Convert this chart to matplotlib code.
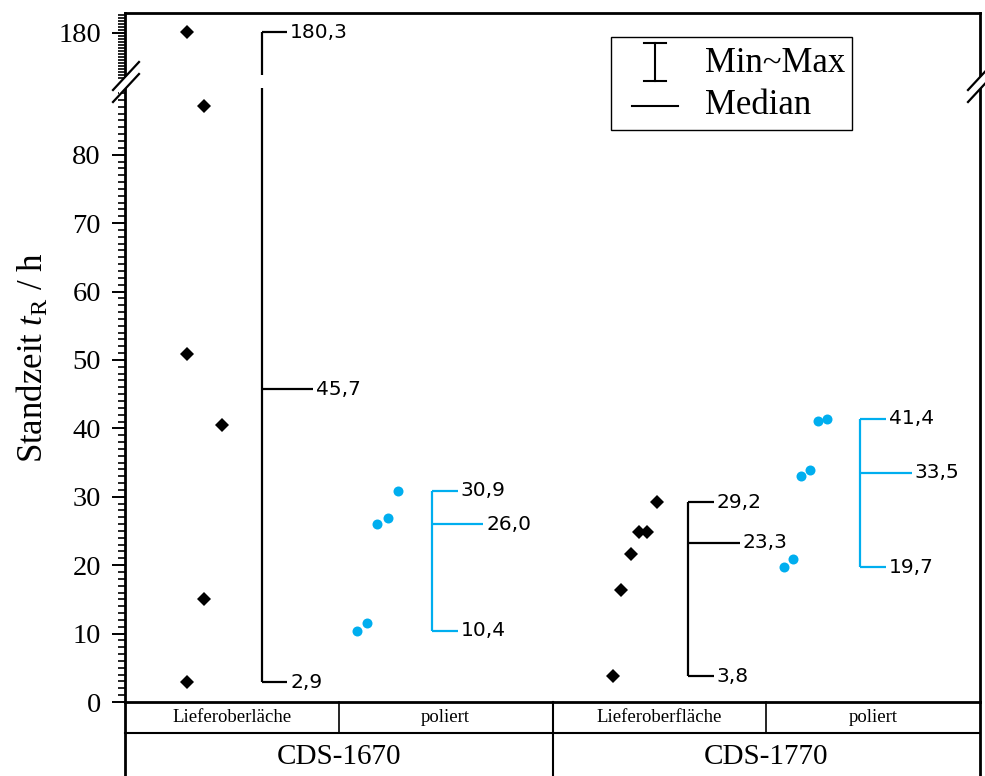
import numpy as np
import matplotlib
matplotlib.use("Agg")
import matplotlib.pyplot as plt
from matplotlib.patches import Polygon, Rectangle
from matplotlib.lines import Line2D

plt.rcParams['font.family'] = ['Liberation Serif', 'DejaVu Serif']
plt.rcParams['mathtext.fontset'] = 'custom'
plt.rcParams['mathtext.rm'] = 'Liberation Serif'
plt.rcParams['mathtext.it'] = 'Liberation Serif:italic'

# ---------------- data ----------------
materials = ["CDS-1670", "CDS-1770"]
surfaces = ["Lieferoberläche", "poliert", "Lieferoberfläche", "poliert"]
g1_values = [2.9, 15.1, 40.5, 50.9, 87.1, 180.3]
g2_values = [10.4, 11.5, 26.0, 26.9, 30.9]
g3_values = [3.8, 16.4, 21.7, 24.9, 24.9, 29.2]
g4_values = [19.7, 20.9, 33.1, 33.9, 41.1, 41.4]
yticks_major = [0, 10, 20, 30, 40, 50, 60, 70, 80, 180]

# ---------------- layout ----------------
groups = [g1_values, g2_values, g3_values, g4_values]
x_offsets = [
    [0.29, 0.37, 0.454, 0.29, 0.37, 0.29],
    [0.084, 0.13, 0.18, 0.23, 0.276],
    [0.285, 0.32, 0.365, 0.407, 0.444, 0.487],
    [0.084, 0.126, 0.164, 0.206, 0.243, 0.285],
]
bracket_x = [0.64, 0.437, 0.636, 0.44]
group_colors = ["black", "#00AEEF", "black", "#00AEEF"]
group_markers = ["D", "o", "D", "o"]
group_ms = [6.8, 7.2, 6.8, 7.2]
tick_len = 0.12
med_len = 0.24
K = 0.4386                      # compression of the upper segment
UP0 = 180 - 7.2 / K             # lowest value of upper segment
low_top, up_bot = 89.8, 180 - 6.09 / K   # gap in the bracket at the axis break

# broken axis scale
def fwd(v):
    v = np.asarray(v, dtype=float)
    return np.where(v <= 90, v,
                    np.where(v >= UP0, 97.8 + (v - 180) * K,
                             90 + (v - 90) * (0.6 / (UP0 - 90))))

def inv(d):
    d = np.asarray(d, dtype=float)
    return np.where(d <= 90, d,
                    np.where(d >= 90.6, 180 + (d - 97.8) / K,
                             90 + (d - 90) * ((UP0 - 90) / 0.6)))

fig = plt.figure(figsize=(9.85, 7.76), dpi=100)
ax = fig.add_axes([125/985, 1 - 702/776, 855/985, 689/776])
ax.set_yscale('function', functions=(fwd, inv))
ax.set_ylim(0, 180 + 2.91 / K)
ax.set_xlim(0, 4)

def fmt(v):
    return f"{v:.1f}".replace('.', ',')

for i, vals in enumerate(groups):
    xs = [i + o for o in x_offsets[i]]
    c = group_colors[i]
    ax.plot(xs, vals, linestyle='none', marker=group_markers[i],
            ms=group_ms[i], color=c, markeredgewidth=0, clip_on=False, zorder=3)
    vmin, vmax, vmed = min(vals), max(vals), float(np.median(vals))
    bx = i + bracket_x[i]
    lw = 1.6
    if vmax > 100:
        ax.plot([bx, bx], [vmin, low_top], color=c, lw=lw, solid_capstyle='butt')
        ax.plot([bx, bx], [up_bot, vmax], color=c, lw=lw, solid_capstyle='butt')
    else:
        ax.plot([bx, bx], [vmin, vmax], color=c, lw=lw, solid_capstyle='butt')
    for v in (vmin, vmax):
        ax.plot([bx, bx + tick_len], [v, v], color=c, lw=lw, solid_capstyle='butt')
        ax.annotate(fmt(v), (bx + tick_len, v), xytext=(2, 0), textcoords='offset points',
                    va='center', ha='left', fontsize=14.5, family='DejaVu Sans')
    ax.plot([bx, bx + med_len], [vmed, vmed], color=c, lw=lw, solid_capstyle='butt')
    ax.annotate(fmt(vmed), (bx + med_len, vmed), xytext=(2, 0), textcoords='offset points',
                va='center', ha='left', fontsize=14.5, family='DejaVu Sans')

# axes styling
ax.set_yticks(yticks_major)
ax.set_yticklabels([str(t) for t in yticks_major])
ax.set_yticks(list(range(0, 90)) + list(range(int(np.ceil(UP0)) + 1, 187)), minor=True)
ax.tick_params(axis='y', which='major', direction='out', length=9.4, width=1.4, labelsize=20.5, pad=8)
ax.tick_params(axis='y', which='minor', direction='out', length=5, width=1.2)
ax.set_xticks([])
for s in ax.spines.values():
    s.set_linewidth(2.0)
ax.set_ylabel("Standzeit $t_\\mathrm{R}$ / h", fontsize=25, labelpad=5)

# axis break marks
def px2ax(x, y):
    return ((x - 125) / 855, (702 - y) / 689)

for xc in (125, 980):
    a1 = px2ax(xc - 12, 90); b1 = px2ax(xc + 14, 62)
    a2 = px2ax(xc - 12, 102); b2 = px2ax(xc + 14, 74)
    poly = Polygon([px2ax(xc - 6, 84), px2ax(xc + 8, 69), px2ax(xc + 8, 80), px2ax(xc - 6, 95)],
                   closed=True, transform=ax.transAxes, facecolor='white',
                   edgecolor='none', clip_on=False, zorder=5)
    ax.add_patch(poly)
    for a, b in ((a1, b1), (a2, b2)):
        ax.add_line(Line2D([a[0], b[0]], [a[1], b[1]], transform=ax.transAxes,
                           color='black', lw=1.6, clip_on=False, zorder=6))

# legend (drawn manually)
ax.add_patch(Rectangle((0.568, 0.830), 0.282, 0.135, transform=ax.transAxes,
                       facecolor='white', edgecolor='black', lw=1.0, zorder=7))
lx, ly0, ly1 = px2ax(655, 43)[0], px2ax(655, 81)[1], px2ax(655, 43)[1]
cw = 11 / 855
ax.add_line(Line2D([lx, lx], [ly0, ly1], transform=ax.transAxes, color='black', lw=1.5, zorder=8))
for yy in (ly0, ly1):
    ax.add_line(Line2D([lx - cw, lx + cw], [yy, yy], transform=ax.transAxes, color='black', lw=1.5, zorder=8))
m0, my = px2ax(632, 106)
m1, _ = px2ax(678, 106)
ax.add_line(Line2D([m0, m1], [my, my], transform=ax.transAxes, color='black', lw=1.5, zorder=8))
tx = px2ax(705, 0)[0]
ax.text(tx, px2ax(0, 63)[1], "Min~Max", transform=ax.transAxes, fontsize=25, va='center', ha='left', zorder=8)
ax.text(tx, px2ax(0, 106)[1], "Median", transform=ax.transAxes, fontsize=25, va='center', ha='left', zorder=8)

# category table below axis
tr = ax.get_xaxis_transform()
row1 = (702 - 733) / 689
row2 = -0.12
ax.add_line(Line2D([0, 4], [row1, row1], transform=tr, color='black', lw=1.5, clip_on=False))
for xb in (0, 4):
    ax.add_line(Line2D([xb, xb], [0, row2], transform=tr, color='black', lw=2.0, clip_on=False))
for xb in (1, 3):
    ax.add_line(Line2D([xb, xb], [0, row1], transform=tr, color='black', lw=1.2, clip_on=False))
ax.add_line(Line2D([2, 2], [0, row2], transform=tr, color='black', lw=1.5, clip_on=False))
for i, s in enumerate(surfaces):
    ax.text(i + 0.5, row1 / 2, s, transform=tr, ha='center', va='center', fontsize=13.5)
for j, m in enumerate(materials):
    ax.text(2 * j + 1, (702 - 757) / 689, m, transform=tr, ha='center', va='center', fontsize=21)

fig.savefig("out.png", dpi=100)
